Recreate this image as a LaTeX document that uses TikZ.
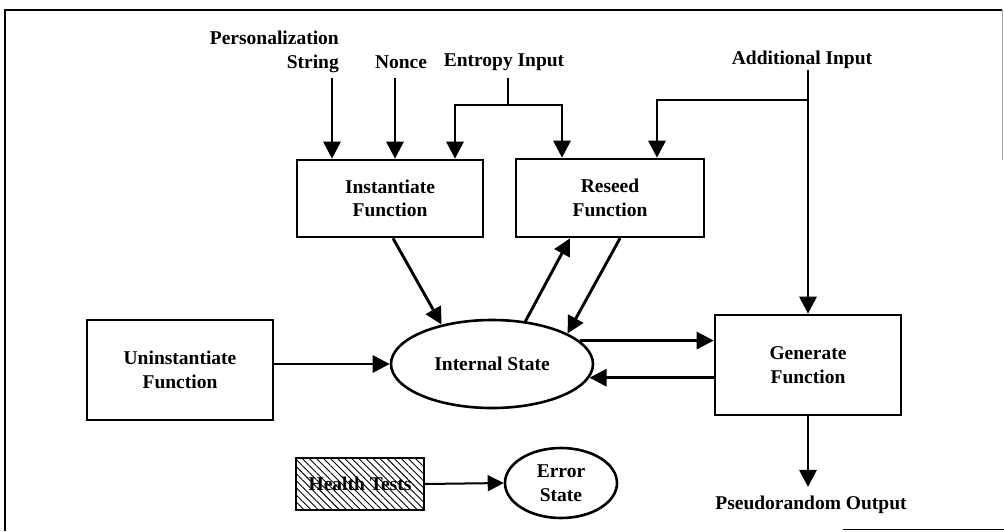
\documentclass[tikz,border=0pt]{standalone}
\usepackage{fontspec}
\setmainfont{Liberation Serif}
\usetikzlibrary{arrows.meta,shapes.geometric,patterns.meta}
\begin{document}
\begin{tikzpicture}[x=1pt,y=-1pt,
  txt/.style={font=\bfseries\fontsize{19.5}{23.5}\selectfont, align=center, inner sep=0pt},
  fbox/.style={txt, draw, line width=2.6pt, rectangle},
  foval/.style={txt, draw, line width=2.6pt, ellipse},
  link/.style={line width=2.9pt},
  arr/.style={line width=2.9pt, -{Triangle[length=17pt,width=17pt]}},
  thinarr/.style={line width=2pt, -{Triangle[length=16pt,width=16pt]}},
  hatch/.style={pattern={Lines[angle=-45,distance=5pt,line width=0.9pt]}}]
\useasboundingbox (0,0) rectangle (1004,531);

% outer frame
\draw[line width=2.4pt] (1002,10) -- (5,10) -- (5,531);
\draw[line width=1.4pt] (843,529.5) -- (1004,529.5);
\draw[line width=0.6pt, black!35] (1002,10) -- (1002,160);

% function boxes
\node[fbox, minimum width=186pt, minimum height=77pt] (inst)   at (390,198.5) {Instantiate\\Function};
\node[fbox, minimum width=188pt, minimum height=78pt] (reseed) at (610,198) {Reseed\\Function};
\node[fbox, minimum width=186pt, minimum height=100pt] (uninst) at (180,370) {Uninstantiate\\Function};
\node[fbox, minimum width=186pt, minimum height=100pt] (gen)    at (808,365) {Generate\\Function};
\node[fbox, hatch, minimum width=128pt, minimum height=52pt] (health) at (360,484) {Health Tests};

% states
\node[foval, minimum width=202pt, minimum height=88pt] (state) at (492,364) {Internal State};
\node[foval, minimum width=112pt, minimum height=70pt] (error) at (561,483) {Error\\State};

% input and output labels
\node[txt, align=right, anchor=east] (lpers) at (339,52) {Personalization\\String};
\node[txt] (lnonce)   at (401,62) {Nonce};
\node[txt] (lentropy) at (504,62) {Entropy Input};
\node[txt] (laddit)   at (802,60) {Additional Input};
\node[txt, inner ysep=9pt] (lpseudo) at (811,505) {Pseudorandom Output};

% connector start points and junctions
\coordinate (sTop) at (332,78);
\coordinate (nTop) at (395,78);
\coordinate (eTop) at (508,78);
\coordinate (eJ)   at (508,105);
\coordinate (aTop) at (808,70);
\coordinate (aJ)   at (808,100);

% inputs into instantiate and reseed
\draw[arr] (sTop) -- (sTop |- inst.north);
\draw[arr] (nTop) -- (nTop |- inst.north);
\draw[link] (eTop) -- (eJ);
\draw[arr] (eJ) -| ([xshift=65pt]inst.north);
\draw[arr] (eJ) -| ([xshift=-48pt]reseed.north);
\draw[link] (aTop) -- (aJ);
\draw[arr] (aJ) -| ([xshift=47pt]reseed.north);
\draw[arr] (aJ) -- (aJ |- gen.north);

% flows around the internal state
\draw[arr] ([xshift=3pt]inst.south) -- (state.142);
\draw[arr] (state.52) -- ([xshift=-40pt]reseed.south);
\draw[arr] ([xshift=10pt]reseed.south) -- (state.22);
\draw[arr] (state.15) -- (state.15 -| gen.west);
\draw[arr] (state.-8 -| gen.west) -- (state.-8);
\draw[arr] (state.west -| uninst.east) -- (state.west);
\draw[thinarr] (health.east) -- (error.west);
\draw[arr] (gen.south) -- (gen.south |- lpseudo.north);
\end{tikzpicture}
\end{document}
